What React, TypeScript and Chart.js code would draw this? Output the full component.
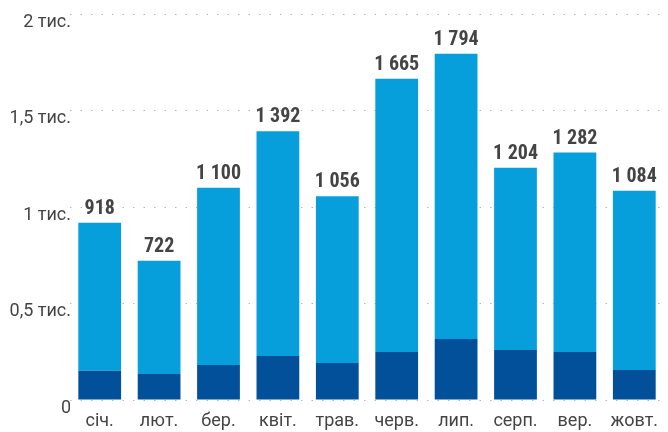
import React, { useEffect, useRef } from "react";
import { Chart, registerables } from "chart.js";

Chart.register(...registerables);

const categories = ["січ.", "лют.", "бер.", "квіт.", "трав.", "черв.", "лип.", "серп.", "вер.", "жовт."];
const totals = [918, 722, 1100, 1392, 1056, 1665, 1794, 1204, 1282, 1084];
const darkValues = [152, 135, 181, 228, 192, 249, 316, 259, 249, 155];
const lightValues = totals.map((t, i) => t - darkValues[i]);
const yTickLabels: Record<number, string> = { 0: "0", 500: "0,5 тис.", 1000: "1 тис.", 1500: "1,5 тис.", 2000: "2 тис." };

const FONT = "Roboto, sans-serif";

const totalsPlugin = {
  id: "totals",
  afterDatasetsDraw(chart: any) {
    const ctx = chart.ctx;
    const meta = chart.getDatasetMeta(1);
    ctx.save();
    ctx.font = `condensed bold 20px ${FONT}`;
    ctx.fillStyle = "#444444";
    ctx.textAlign = "center";
    ctx.textBaseline = "alphabetic";
    meta.data.forEach((bar: any, i: number) => {
      const s = totals[i].toLocaleString("uk-UA").replace(/\s/g, " ");
      ctx.fillText(s, bar.x, bar.y - 9);
    });
    ctx.restore();
  },
};

export default function App() {
  const ref = useRef<HTMLCanvasElement>(null);
  useEffect(() => {
    document.body.style.margin = "0";
    const chart = new Chart(ref.current!, {
      type: "bar",
      data: {
        labels: categories,
        datasets: [
          { data: darkValues, backgroundColor: "#02509A", barPercentage: 0.72, categoryPercentage: 1 },
          { data: lightValues, backgroundColor: "#079FDB", barPercentage: 0.72, categoryPercentage: 1 },
        ],
      },
      options: {
        animation: false,
        responsive: false,
        layout: { padding: { top: 14, right: 4, bottom: 0, left: 0 } },
        plugins: { legend: { display: false }, tooltip: { enabled: false } },
        scales: {
          x: {
            stacked: true,
            afterFit(scale: any) { scale.height = 32; },
            grid: { display: false },
            border: { display: false },
            ticks: { color: "#444444", font: { family: FONT, size: 18, style: "condensed" as any }, padding: 3 },
          },
          y: {
            stacked: true,
            min: 0,
            max: 2000,
            afterFit(scale: any) { scale.width = 70; },
            grid: { color: "#b8b8b8", lineWidth: 1, drawTicks: false },
            border: { display: false, dash: [1.5, 9] },
            ticks: {
              stepSize: 500,
              color: "#444444",
              font: { family: FONT, size: 18, style: "condensed" as any },
              padding: -1,
              labelOffset: 8,
              callback: (v: any) => yTickLabels[v as number] ?? "",
            },
          },
        },
      },
      plugins: [totalsPlugin],
    });
    return () => chart.destroy();
  }, []);
  return <canvas ref={ref} width={668} height={432} style={{ display: "block" }} />;
}
